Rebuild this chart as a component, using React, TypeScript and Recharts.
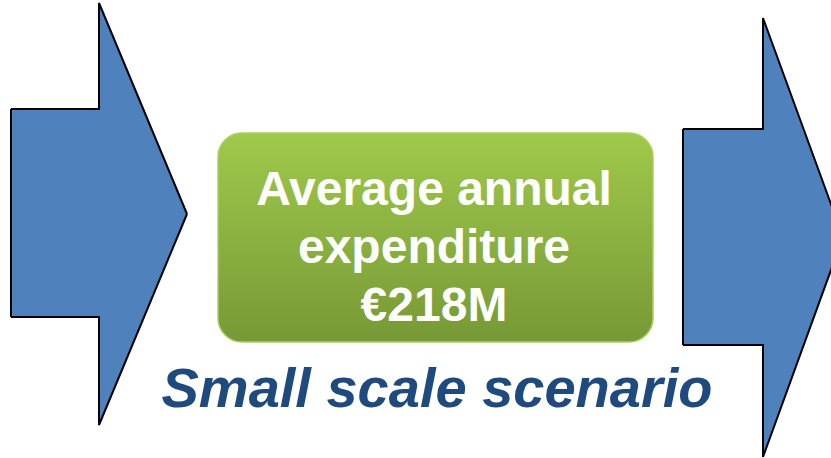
import React from 'react';
import { ComposedChart, Area, XAxis, YAxis, ReferenceArea, ReferenceLine, ReferenceDot } from 'recharts';

const W = 831;
const H = 458;

// arrow outlines: x position with [top, bottom] edge at that x
const leftArrowX = [11, 99, 99, 187];
const leftArrowEdges: [number, number][] = [[109, 317], [109, 317], [3, 425], [214, 214]];
const rightArrowX = [683, 763, 763, 843];
const rightArrowEdges: [number, number][] = [[129, 345], [129, 345], [18, 457], [237, 237]];

const boxLines = ['Average annual', 'expenditure', '€218M'];
const boxLineBaselines = [205, 263, 321];
const scenarioLabel = 'Small scale scenario';

const data = [
  ...leftArrowX.map((x, i) => ({ x, left: leftArrowEdges[i], right: null })),
  ...rightArrowX.map((x, i) => ({ x, left: null, right: rightArrowEdges[i] })),
];

const BLUE = '#4f81bd';
const FONT = '"Liberation Sans", Arial, sans-serif';

export default function App() {
  return (
    <div style={{ position: 'absolute', left: 0, top: 0, background: '#fff' }}>
      <ComposedChart width={W} height={H} data={data} margin={{ top: 0, right: 0, bottom: 0, left: 0 }}>
        <defs>
          <linearGradient id="boxFill" x1="0" y1="0" x2="0" y2="1">
            <stop offset="0%" stopColor="#9fc94b" />
            <stop offset="100%" stopColor="#779936" />
          </linearGradient>
        </defs>
        <XAxis hide type="number" dataKey="x" domain={[0, W]} allowDataOverflow />
        <YAxis hide type="number" domain={[0, H]} reversed allowDataOverflow />
        <Area
          dataKey="left"
          type="linear"
          fill={BLUE}
          fillOpacity={1}
          stroke="#000"
          strokeWidth={2}
          dot={false}
          activeDot={false}
          isAnimationActive={false}
        />
        <Area
          dataKey="right"
          type="linear"
          fill={BLUE}
          fillOpacity={1}
          stroke="#000"
          strokeWidth={2}
          dot={false}
          activeDot={false}
          isAnimationActive={false}
        />
        <ReferenceLine
          segment={[{ x: leftArrowX[0], y: leftArrowEdges[0][0] }, { x: leftArrowX[0], y: leftArrowEdges[0][1] }]}
          stroke="#000"
          strokeWidth={2}
        />
        <ReferenceLine
          segment={[{ x: rightArrowX[0], y: rightArrowEdges[0][0] }, { x: rightArrowX[0], y: rightArrowEdges[0][1] }]}
          stroke="#000"
          strokeWidth={2}
        />
        <ReferenceArea
          x1={218}
          x2={653}
          y1={133}
          y2={342}
          shape={(p: any) => (
            <rect
              x={p.x}
              y={p.y}
              width={p.width}
              height={p.height}
              rx={24}
              ry={24}
              fill="url(#boxFill)"
              stroke="#a9d05e"
              strokeWidth={1.5}
            />
          )}
        />
        {boxLines.map((line, i) => (
          <ReferenceDot
            key={line}
            x={434}
            y={boxLineBaselines[i]}
            r={0}
            shape={(p: any) => (
              <text
                x={p.cx}
                y={p.cy}
                textAnchor="middle"
                fill="#fff"
                fontFamily={FONT}
                fontWeight="bold"
                fontSize={48}
              >
                {line}
              </text>
            )}
          />
        ))}
        <ReferenceDot
          x={437}
          y={407}
          r={0}
          shape={(p: any) => (
            <text
              x={p.cx}
              y={p.cy}
              textAnchor="middle"
              fill="#1f4a7e"
              fontFamily={FONT}
              fontWeight="bold"
              fontStyle="italic"
              fontSize={56}
            >
              {scenarioLabel}
            </text>
          )}
        />
      </ComposedChart>
    </div>
  );
}
